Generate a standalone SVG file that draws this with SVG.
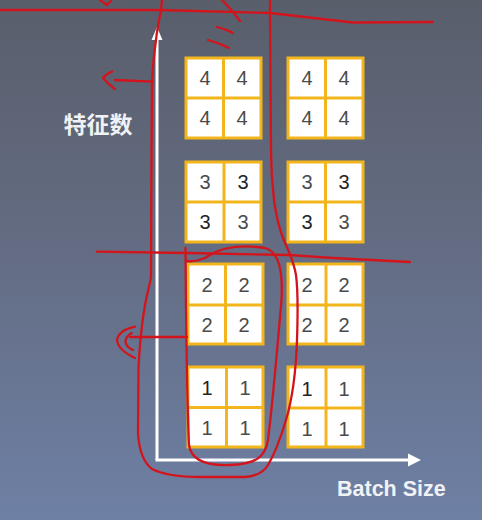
<svg xmlns="http://www.w3.org/2000/svg" width="482" height="520" viewBox="0 0 482 520">
  <defs>
    <linearGradient id="bg" x1="0" y1="0" x2="0" y2="1">
      <stop offset="0" stop-color="#595e6b"/>
      <stop offset="0.5" stop-color="#646d84"/>
      <stop offset="1" stop-color="#6e80a5"/>
    </linearGradient>
    <style>
      .cell { fill: #ffffff; stroke: #f2b51c; stroke-width: 3; }
      .div { stroke: #f2b51c; stroke-width: 3; }
      .d { font-family: "Liberation Sans", "DejaVu Sans", sans-serif; font-size: 20px; fill: #4a4a4a; text-anchor: middle; }
      .dk { fill: #222222; }
      .axis { stroke: #ffffff; stroke-width: 3; fill: none; }
      .head { fill: #ffffff; }
      .lbl { font-family: "Liberation Sans", "Noto Sans CJK SC", sans-serif; font-weight: bold; fill: #f0f2f5; }
      .red { fill: none; stroke: #d3141c; stroke-width: 2.3; stroke-linecap: round; stroke-linejoin: round; }
    </style>
  </defs>
  <rect x="0" y="0" width="482" height="520" fill="url(#bg)"/>

  <g id="connectors">
    <path class="axis" d="M157,460 L157,38"/>
    <polygon class="head" points="157,27 151.5,40 162.5,40"/>
    <path class="axis" d="M155.5,460 L409,460"/>
    <polygon class="head" points="421,460 408,453.5 408,466.5"/>
  </g>

  <g id="grid-4-left">
    <rect class="cell" x="186" y="58" width="75" height="80"/>
    <line class="div" x1="223.5" y1="58" x2="223.5" y2="138"/>
    <line class="div" x1="186" y1="98" x2="261" y2="98"/>
    <text class="d" x="205" y="85">4</text><text class="d" x="242" y="85">4</text>
    <text class="d" x="205" y="125">4</text><text class="d" x="242" y="125">4</text>
  </g>
  <g id="grid-4-right">
    <rect class="cell" x="288" y="58" width="75" height="80"/>
    <line class="div" x1="325.5" y1="58" x2="325.5" y2="138"/>
    <line class="div" x1="288" y1="98" x2="363" y2="98"/>
    <text class="d" x="307" y="85">4</text><text class="d" x="344" y="85">4</text>
    <text class="d" x="307" y="125">4</text><text class="d" x="344" y="125">4</text>
  </g>
  <g id="grid-3-left">
    <rect class="cell" x="186" y="162" width="75" height="80"/>
    <line class="div" x1="224" y1="162" x2="224" y2="242"/>
    <line class="div" x1="186" y1="202" x2="261" y2="202"/>
    <text class="d" x="205" y="189">3</text><text class="d dk" x="243" y="189">3</text>
    <text class="d dk" x="205" y="229">3</text><text class="d" x="243" y="229">3</text>
  </g>
  <g id="grid-3-right">
    <rect class="cell" x="288" y="162" width="75" height="80"/>
    <line class="div" x1="325.5" y1="162" x2="325.5" y2="242"/>
    <line class="div" x1="288" y1="202" x2="363" y2="202"/>
    <text class="d" x="307" y="189">3</text><text class="d dk" x="344" y="189">3</text>
    <text class="d dk" x="307" y="229">3</text><text class="d" x="344" y="229">3</text>
  </g>
  <g id="grid-2-left">
    <rect class="cell" x="188" y="264" width="75" height="80"/>
    <line class="div" x1="225.5" y1="264" x2="225.5" y2="344"/>
    <line class="div" x1="188" y1="305" x2="263" y2="305"/>
    <text class="d" x="207" y="292">2</text><text class="d" x="244" y="292">2</text>
    <text class="d" x="207" y="332">2</text><text class="d" x="244" y="332">2</text>
  </g>
  <g id="grid-2-right">
    <rect class="cell" x="288" y="264" width="75" height="80"/>
    <line class="div" x1="326" y1="264" x2="326" y2="344"/>
    <line class="div" x1="288" y1="305" x2="363" y2="305"/>
    <text class="d" x="307" y="292">2</text><text class="d" x="344" y="292">2</text>
    <text class="d" x="307" y="332">2</text><text class="d" x="344" y="332">2</text>
  </g>
  <g id="grid-1-left">
    <rect class="cell" x="188" y="367" width="75" height="80"/>
    <line class="div" x1="226.5" y1="367" x2="226.5" y2="447"/>
    <line class="div" x1="188" y1="407.5" x2="263" y2="407.5"/>
    <text class="d dk" x="207" y="395">1</text><text class="d" x="245" y="395">1</text>
    <text class="d" x="207" y="435">1</text><text class="d" x="245" y="435">1</text>
  </g>
  <g id="grid-1-right">
    <rect class="cell" x="288" y="367" width="75" height="80"/>
    <line class="div" x1="326" y1="367" x2="326" y2="447"/>
    <line class="div" x1="288" y1="408" x2="363" y2="408"/>
    <text class="d dk" x="307" y="396">1</text><text class="d" x="344" y="396">1</text>
    <text class="d" x="307" y="436">1</text><text class="d" x="344" y="436">1</text>
  </g>

  <g id="label-y">
    <text class="lbl" x="98" y="133" font-size="23" text-anchor="middle">特征数</text>
  </g>
  <g id="label-x">
    <text class="lbl" x="337" y="496" font-size="21.5">Batch Size</text>
  </g>

  <g id="annotations">
    <path class="red" d="M0,10 L160,10 L270,13 L353,22.5 L433,22"/>
    <path class="red" d="M100,0 L107,5 L111,1"/>
    <path class="red" d="M222,0 Q232,10 240,21"/>
    <path class="red" d="M217,27 Q226,29 233,33"/>
    <path class="red" d="M208,40 Q219,43 229,48"/>
    <path class="red" d="M162,0 L161,10 C159,20 157,30 156,40 C154,55 152.5,70 152,82 L151.5,150 L151,277 C150,284 148,290 146,300 C143,315 140,340 138.5,367 L138,433 C139,450 143,462 152,469 C162,474 180,477 200,477 L245,477 C257,476 264,472 268,465 C274,455 280,440 286,420 C292,400 296,370 297,340 C298,310 298,290 296,275 C293,258 287,248 283,238 C278,225 276,215 274,200 C272,183 271,170 271,150 L270,13 L270,0"/>
    <path class="red" d="M185.5,248 C186,320 187,400 189,445 C191,460 205,466 230,465 C255,464 265,458 268,440 C273,400 278,340 281.5,300 C283,270 279,252 265,248 C245,245 225,246 210,255 C203,260 193,262 187,261"/>
    <path class="red" d="M97,251.7 L186.7,253 L290,255 L333,258 L410,262"/>
    <path class="red" d="M153,81.7 L115,80"/>
    <path class="red" d="M112,71.5 Q106,74 103,78 Q108,84 115,89"/>
    <path class="red" d="M187,337 L130,337"/>
    <path class="red" d="M135,326.7 Q119,330 117,340 Q118,350 135,358"/>
    <path class="red" d="M131.7,333 Q124,337 126,344 Q128,348 133,350"/>
  </g>
</svg>
